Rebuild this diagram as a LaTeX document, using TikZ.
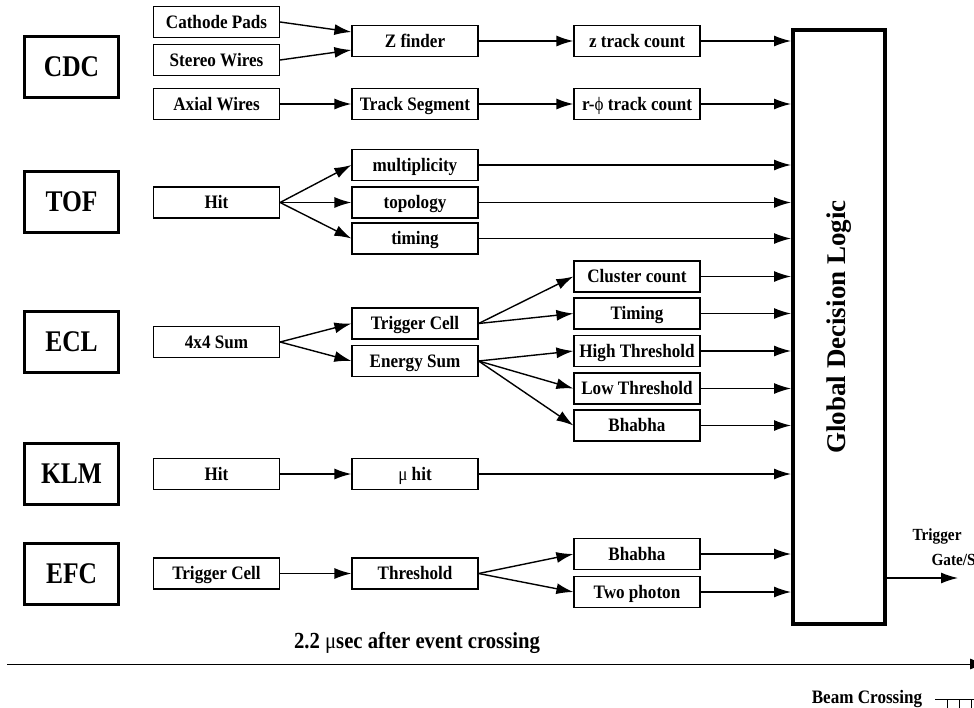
\documentclass[tikz,border=0pt]{standalone}
\usepackage{fontspec}
\setmainfont{Liberation Serif}
\newfontfamily\detfont[FakeStretch=0.85]{Liberation Serif}
\newfontfamily\blkfont[FakeStretch=0.9]{Liberation Serif}
\usetikzlibrary{arrows.meta}

\begin{document}
\begin{tikzpicture}[x=1pt,y=-1pt,>={Latex[length=17pt,width=11pt]},
  det/.style={rectangle,draw,line width=3.2pt,minimum width=94pt,minimum height=61pt,inner sep=0pt,font=\detfont\fontsize{30}{34}\selectfont\bfseries},
  blk/.style={rectangle,draw,line width=1.2pt,minimum width=126pt,minimum height=31pt,inner sep=0pt,text height=12.5pt,text depth=0pt,font=\blkfont\fontsize{19}{22}\selectfont\bfseries},
  sig/.style={->,line width=1.4pt}]
\useasboundingbox (0,0) rectangle (974,707);
% detectors
\node (cdc) at (71.5,67)  [det] {CDC};
\node (tof) at (71.5,202) [det] {TOF};
\node (ecl) at (71.5,342) [det] {ECL};
\node (klm) at (71.5,474) [det] {KLM};
\node (efc) at (71.5,574) [det] {EFC};
% CDC
\node (cpads)  at (216.5,22)  [blk] {Cathode Pads};
\node (swires) at (216.5,60)  [blk] {Stereo Wires};
\node (axial)  at (216.5,104) [blk] {Axial Wires};
\node (zfind)  at (415,41)    [blk] {Z finder};
\node (tseg)   at (415,104)   [blk] {Track Segment};
\node (zcount) at (637,41)    [blk] {z track count};
\node (rcount) at (637,104)   [blk] {r-{\mdseries ϕ} track count};
% TOF
\node (tofhit)  at (216.5,202.5) [blk] {Hit};
\node (mult)    at (415,165)     [blk] {multiplicity};
\node (topo)    at (415,202.5)   [blk] {topology};
\node (toftime) at (415,238.5)   [blk] {timing};
% ECL
\node (sum44)   at (216.5,342) [blk] {4x4 Sum};
\node (trgcell) at (415,323.5) [blk] {Trigger Cell};
\node (esum)    at (415,361)   [blk] {Energy Sum};
\node (clus)    at (637,276.5) [blk] {Cluster count};
\node (ecltime) at (637,313.5) [blk] {Timing};
\node (hith)    at (637,351)   [blk] {High Threshold};
\node (lowth)   at (637,388.5) [blk] {Low Threshold};
\node (eclbha)  at (637,425.5) [blk] {Bhabha};
% KLM
\node (klmhit) at (216.5,474) [blk] {Hit};
\node (muhit)  at (415,474)   [blk] {{\mdseries μ} hit};
% EFC
\node (efccell) at (216.5,573.5) [blk] {Trigger Cell};
\node (thr)     at (415,573.5)   [blk] {Threshold};
\node (efcbha)  at (637,554)     [blk] {Bhabha};
\node (twog)    at (637,592)     [blk] {Two photon};
% global decision
\node (gdl) at (839,327) [rectangle,draw,line width=4pt,minimum width=92pt,minimum height=594pt] {};
\node (gdltext) at (gdl.center) [rotate=90,font=\fontsize{27}{30}\selectfont\bfseries] {Global Decision Logic};

\draw [sig] (cpads.east)  -- ([yshift=9pt]zfind.west);
\draw [sig] (swires.east) -- ([yshift=-9pt]zfind.west);
\draw [sig] (axial) -- (tseg);
\draw [sig] (zfind) -- (zcount);
\draw [sig] (tseg)  -- (rcount);
\draw [sig] (tofhit.east) -- (mult.west);
\draw [sig] (tofhit.east) -- (topo.west);
\draw [sig] (tofhit.east) -- (toftime.west);
\draw [sig] (sum44.east) -- (trgcell.west);
\draw [sig] (sum44.east) -- (esum.west);
\draw [sig] (trgcell.east) -- (clus.west);
\draw [sig] (trgcell.east) -- (ecltime.west);
\draw [sig] (esum.east) -- (hith.west);
\draw [sig] (esum.east) -- (lowth.west);
\draw [sig] (esum.east) -- (eclbha.west);
\draw [sig] (klmhit) -- (muhit);
\draw [sig] (efccell) -- (thr);
\draw [sig] (thr.east) -- (efcbha.west);
\draw [sig] (thr.east) -- (twog.west);
\foreach \n in {zcount,rcount,mult,topo,toftime,clus,ecltime,hith,lowth,eclbha,muhit,efcbha,twog}
  \draw [sig] (\n.east) -- (\n.east -| gdl.west);

% output
\coordinate (trig) at (958,578);
\draw [sig] (trig -| gdl.east) -- (trig);
\node (trigtxt) at (909,540) [anchor=base west,font=\blkfont\fontsize{17}{20}\selectfont\bfseries] {Trigger};
\node (gatetxt) at (928,565) [anchor=base west,font=\blkfont\fontsize{17}{20}\selectfont\bfseries] {Gate/S};

% time line
\coordinate (tlstart) at (7,664);
\coordinate (tlend) at (987,664);
\draw [sig,line width=1pt] (tlstart) -- (tlend);
\node (delay) at (417,643) [font=\blkfont\fontsize{23}{26}\selectfont\bfseries] {2.2 {\mdseries μ}sec after event crossing};
\node (beam) at (867,703) [anchor=base,font=\blkfont\fontsize{19}{22}\selectfont\bfseries] {Beam Crossing};
\draw [line width=0.8pt] (935,699) -- (980,699);
\foreach \x in {947,959,971}
  \draw [line width=0.8pt] (\x,699) -- (\x,712);
\end{tikzpicture}
\end{document}
